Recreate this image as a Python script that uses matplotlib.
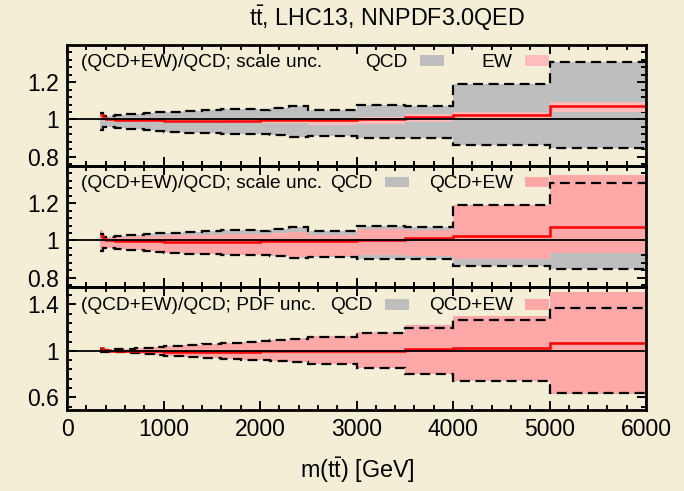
import matplotlib
matplotlib.use("Agg")
import matplotlib.pyplot as plt
from matplotlib.ticker import FixedLocator, MultipleLocator, FuncFormatter
from matplotlib.patches import Rectangle
import numpy as np

plt.rcParams['font.family'] = ['Liberation Sans', 'DejaVu Sans']
plt.rcParams['mathtext.fontset'] = 'custom'
plt.rcParams['mathtext.rm'] = 'Liberation Sans'
plt.rcParams['mathtext.it'] = 'Liberation Sans:italic'
plt.rcParams['mathtext.bf'] = 'Liberation Sans:bold'

# ---------------- data ----------------
edges = [345, 370, 400, 450, 500, 600, 700, 800, 900, 1000, 1200, 1400, 1600,
         1800, 2000, 2100, 2300, 2500, 3000, 3500, 4000, 5000, 6000]

# (QCD+EW)/QCD central ratio
ew_central = [1.022, 1.008, 1.003, 1.0, 0.998, 0.997, 0.996, 0.995, 0.995, 0.994,
              0.994, 0.994, 0.994, 0.994, 0.995, 0.995, 0.995, 0.995, 1.0, 1.012,
              1.023, 1.071]

# panel 1: QCD scale band and EW band
qcd_scale_hi = [1.035, 1.016, 1.018, 1.020, 1.023, 1.027, 1.031, 1.035, 1.038, 1.041,
                1.046, 1.050, 1.054, 1.055, 1.053, 1.062, 1.070, 1.051, 1.076, 1.071,
                1.190, 1.311]
qcd_scale_lo = [0.943, 0.961, 0.959, 0.957, 0.955, 0.951, 0.948, 0.943, 0.939, 0.934,
                0.929, 0.926, 0.924, 0.922, 0.924, 0.918, 0.908, 0.913, 0.902, 0.903,
                0.862, 0.846]
ew_lo = [1.005, 0.998, 0.995, 0.993, 0.991, 0.990, 0.989, 0.988, 0.987, 0.986,
         0.985, 0.984, 0.983, 0.982, 0.981, 0.980, 0.979, 0.972, 0.975, 0.985,
         1.000, 1.038]
ew_hi = [1.030, 1.012, 1.008, 1.004, 1.003, 1.002, 1.001, 1.000, 1.000, 1.000,
         1.000, 1.000, 1.000, 1.000, 1.000, 1.000, 1.000, 0.998, 1.012, 1.027,
         1.039, 1.092]

# panel 2: QCD+EW scale band
qcdew_scale_hi = [1.056, 1.014, 1.015, 1.016, 1.018, 1.020, 1.022, 1.024, 1.026, 1.027,
                  1.030, 1.032, 1.034, 1.035, 1.033, 1.038, 1.047, 1.030, 1.060, 1.058,
                  1.190, 1.353]
qcdew_scale_lo = [0.948, 0.962, 0.960, 0.958, 0.956, 0.952, 0.949, 0.944, 0.940, 0.935,
                  0.930, 0.927, 0.925, 0.923, 0.925, 0.920, 0.912, 0.918, 0.920, 0.915,
                  0.899, 0.930]

# panel 3: PDF bands
qcd_pdf_hi = [1.012, 1.008, 1.008, 1.009, 1.012, 1.016, 1.022, 1.028, 1.034, 1.042,
              1.052, 1.062, 1.070, 1.077, 1.083, 1.092, 1.104, 1.123, 1.155, 1.200,
              1.267, 1.373]
qcd_pdf_lo = [0.990, 0.992, 0.992, 0.991, 0.988, 0.984, 0.977, 0.971, 0.966, 0.958,
              0.948, 0.940, 0.932, 0.925, 0.920, 0.912, 0.902, 0.888, 0.850, 0.800,
              0.742, 0.633]
qcdew_pdf_hi = [1.030, 1.010, 1.008, 1.009, 1.012, 1.016, 1.022, 1.028, 1.034, 1.042,
                1.052, 1.062, 1.070, 1.078, 1.085, 1.094, 1.107, 1.128, 1.165, 1.224,
                1.300, 1.510]
qcdew_pdf_lo = [0.990, 0.992, 0.990, 0.989, 0.986, 0.982, 0.975, 0.969, 0.964, 0.956,
                0.946, 0.938, 0.930, 0.923, 0.918, 0.910, 0.900, 0.886, 0.848, 0.798,
                0.740, 0.627]

xticks = [0, 1000, 2000, 3000, 4000, 5000, 6000]
yticks_12 = [0.8, 1.0, 1.2]
yticks_3 = [0.6, 1.0, 1.4]

title = r'$\mathrm{t\bar{t}}$, LHC13, NNPDF3.0QED'
xlabel = r'm($\mathrm{t\bar{t}}$) [GeV]'

# ---------------- style ----------------
BG = '#f4eed6'
GRAY = '#bebebe'
PINK_LIGHT = '#ffbcbc'
PINK = '#ffa8a8'
RED = '#ff0000'
LFS = 13.8

fig = plt.figure(figsize=(6.84, 4.91), dpi=100, facecolor=BG)
L, R = 67 / 684, 646 / 684
def frac(y):
    return 1 - y / 491
pos = [(45, 166), (166, 287), (287, 410)]
axes = []
for top, bot in pos:
    ax = fig.add_axes([L, frac(bot), R - L, frac(top) - frac(bot)])
    ax.set_facecolor('none')
    axes.append(ax)

def band(ax, lo, hi, color, z):
    ax.stairs(hi, edges, baseline=lo, fill=True, color=color, lw=0, zorder=z)

def dashed(ax, vals):
    ax.stairs(vals, edges, baseline=None, color='black', lw=1.6,
              linestyle=(0, (4.5, 2.5)), zorder=5)

def central(ax):
    ax.stairs(ew_central, edges, baseline=None, color=RED, lw=1.8, zorder=6)
    ax.axhline(1.0, color='black', lw=1.3, zorder=7)

fmt = FuncFormatter(lambda v, p: '{:g}'.format(round(v, 3)))

def style(ax, ylim, yt, yminor, show_x):
    ax.set_xlim(0, 6000)
    ax.set_ylim(*ylim)
    ax.xaxis.set_major_locator(FixedLocator(xticks))
    ax.xaxis.set_minor_locator(MultipleLocator(200))
    ax.yaxis.set_major_locator(FixedLocator(yt))
    ax.yaxis.set_minor_locator(FixedLocator(yminor))
    ax.yaxis.set_major_formatter(fmt)
    ax.tick_params(which='both', direction='in', top=True, right=True,
                   width=1.4, labelsize=16.5, pad=6)
    ax.tick_params(which='major', length=6.5)
    ax.tick_params(which='minor', length=3.5)
    if not show_x:
        ax.tick_params(labelbottom=False)
    for s in ax.spines.values():
        s.set_linewidth(2.0)
        s.set_zorder(10)

def label(ax, x, y, s, ha):
    ax.text(x, y, s, transform=ax.transAxes, ha=ha, va='center', fontsize=LFS)

def box(ax, x0, color, y0):
    ax.add_patch(Rectangle((x0, y0), 24 / 579, 10.5 / 121, transform=ax.transAxes,
                           facecolor=color, edgecolor='none', zorder=8))

minor_12 = list(np.round(np.arange(0.76, 1.4, 0.04), 3))
minor_3 = list(np.round(np.arange(0.52, 1.55, 0.08), 3))

# Panel 1
ax = axes[0]
band(ax, qcd_scale_lo, qcd_scale_hi, GRAY, 1)
band(ax, ew_lo, ew_hi, PINK_LIGHT, 2)
dashed(ax, qcd_scale_hi)
dashed(ax, qcd_scale_lo)
central(ax)
style(ax, (0.75, 1.4), yticks_12, minor_12, False)
yc = 1 - 17.5 / 121
label(ax, 14 / 579, yc, '(QCD+EW)/QCD; scale unc.', 'left')
label(ax, (407 - 67) / 579, yc, 'QCD', 'right')
label(ax, (512 - 67) / 579, yc, 'EW', 'right')
box(ax, (420 - 67) / 579, GRAY, 1 - 21 / 121)
box(ax, (525 - 67) / 579, PINK_LIGHT, 1 - 21 / 121)

# Panel 2
ax = axes[1]
band(ax, qcd_scale_lo, qcd_scale_hi, GRAY, 1)
band(ax, qcdew_scale_lo, qcdew_scale_hi, PINK, 2)
dashed(ax, qcd_scale_hi)
dashed(ax, qcd_scale_lo)
central(ax)
style(ax, (0.75, 1.4), yticks_12, minor_12, False)
label(ax, 14 / 579, yc, '(QCD+EW)/QCD; scale unc.', 'left')
label(ax, (372 - 67) / 579, yc, 'QCD', 'right')
label(ax, (513 - 67) / 579, yc, 'QCD+EW', 'right')
box(ax, (385 - 67) / 579, GRAY, 1 - 21 / 121)
box(ax, (525 - 67) / 579, PINK, 1 - 21 / 121)

# Panel 3
ax = axes[2]
band(ax, qcd_pdf_lo, qcd_pdf_hi, GRAY, 1)
band(ax, qcdew_pdf_lo, qcdew_pdf_hi, PINK, 2)
dashed(ax, qcd_pdf_hi)
dashed(ax, qcd_pdf_lo)
central(ax)
style(ax, (0.49, 1.55), yticks_3, minor_3, True)
yc3 = 1 - 18.5 / 123
label(ax, 14 / 579, yc3, '(QCD+EW)/QCD; PDF unc.', 'left')
label(ax, (372 - 67) / 579, yc3, 'QCD', 'right')
label(ax, (513 - 67) / 579, yc3, 'QCD+EW', 'right')
box(ax, (385 - 67) / 579, GRAY, 1 - 23 / 123)
box(ax, (525 - 67) / 579, PINK, 1 - 23 / 123)

fig.text(387 / 684, 1 - 18 / 491, title, ha='center', va='center', fontsize=16.8)
fig.text(357 / 684, 1 - 470 / 491, xlabel, ha='center', va='center', fontsize=16.8)

fig.savefig('out.png', dpi=100, facecolor=BG)
